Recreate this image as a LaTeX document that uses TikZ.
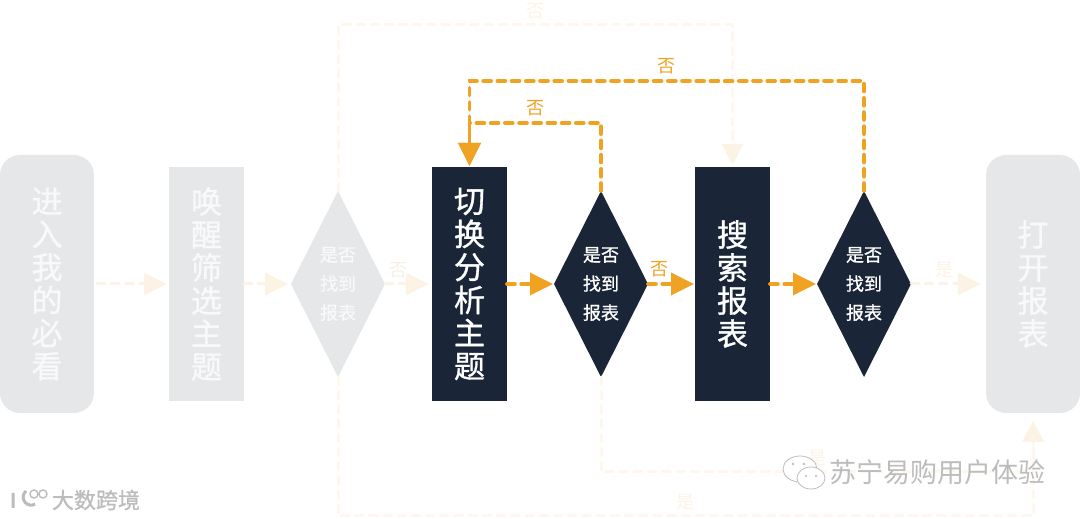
\documentclass[tikz,border=0pt]{standalone}
\usepackage{fontspec}
\setmainfont{Noto Sans CJK SC}
\newfontfamily\cjkheavy[FakeBold=1]{Noto Sans CJK SC}
\usetikzlibrary{arrows.meta,positioning,shapes.geometric}
\definecolor{navy}{HTML}{1A2638}
\definecolor{mist}{HTML}{E5E7E9}
\definecolor{amber}{HTML}{F0A323}
\definecolor{ghost}{HTML}{FDF3E5}
\definecolor{ghostline}{HTML}{FEF7EE}
\definecolor{ghosttext}{HTML}{F8F9F9}
\definecolor{markgrey}{HTML}{BCBCBC}
\begin{document}
\begin{tikzpicture}[x=1pt,y=1pt,>={Triangle[length=23pt,width=22pt]},
 bigtext/.style={font=\fontsize{31}{33}\selectfont\cjkheavy,align=center,inner sep=0pt,outer sep=0pt},
 flat/.style={bigtext,minimum width=75pt,minimum height=234pt},
 pill/.style={bigtext,minimum width=94pt,minimum height=258pt,rounded corners=20pt},
 check/.style={diamond,shape aspect=.5,minimum width=94pt,minimum height=186pt,inner sep=0pt,outer sep=0pt,align=center,font=\fontsize{18}{29}\selectfont\cjkheavy},
 dim/.style={fill=mist,text=ghosttext},
 live/.style={fill=navy,text=white},
 flow/.style={draw=amber,line width=3.6pt,line cap=round,dash pattern=on 8pt off 6.2pt,->},
 fade/.style={draw=ghost,line width=3pt,line cap=round,dash pattern=on 8pt off 6.2pt,->},
 fadeloop/.style={draw=ghostline,line width=3pt,line cap=round,dash pattern=on 8pt off 6.2pt,-{Triangle[length=21pt,width=21pt,color=ghost]}},
 tag/.style={font=\fontsize{18}{20}\selectfont,inner sep=0pt,above=5pt},
 stamp/.style={text=markgrey,inner sep=0pt}]
\useasboundingbox (0,0) rectangle (1080,519);
% process row
\node[pill,dim] (entry) at (47,235) {进\\入\\我\\的\\必\\看};
\node[flat,dim] (awaken) at (206.5,235) {唤\\醒\\筛\\选\\主\\题};
\node[check,dim] (checkA) at (338,235) {是否\\找到\\报表};
\node[flat,live] (switch) at (469.5,235) {切\\换\\分\\析\\主\\题};
\node[check,live] (checkB) at (601,235) {是否\\找到\\报表};
\node[flat,live] (search) at (732.5,235) {搜\\索\\报\\表};
\node[check,live] (checkC) at (864,235) {是否\\找到\\报表};
\node[pill,dim] (report) at (1033,235) {打\\开\\报\\表};
% faded paths
\draw[fade,shorten <=3pt,shorten >=2pt] (entry)--(awaken);
\draw[fade,shorten >=3pt] (awaken)--(checkA);
\draw[fade,shorten >=3pt] (checkA)--node[pos=.28,tag,text=ghost!70!mist]{否}(switch);
\draw[fade,shorten >=5pt] (checkC)--node[pos=.45,tag,text=ghost]{是}(report);
\draw[fadeloop,shorten >=2pt] (checkA.north)--++(0,166)-|node[pos=.25,tag,text=ghost]{否}(search.north);
\draw[fadeloop,shorten >=8pt] (checkB.south)--++(0,-95)-|node[pos=.25,tag,text=ghost]{是}(report.south);
\draw[fadeloop,shorten >=8pt] (checkA.south)--++(0,-139)-|node[pos=.25,tag,text=ghost]{是}(report.south);
% active paths
\draw[flow,shorten >=1pt] (switch)--(checkB);
\draw[flow,shorten >=1pt] (checkB)--node[pos=.24,tag,text=amber]{否}(search);
\draw[flow,shorten >=1pt] (search)--(checkC);
\draw[flow,shorten >=1pt] (checkB.north)--++(0,68)-|node[pos=.25,tag,text=amber]{否}(switch.north);
\draw[flow,shorten >=1pt] (checkC.north)--++(0,110)-|node[pos=.25,tag,text=amber]{否}(switch.north);
% watermarks
\node[stamp,font=\fontsize{27}{29}\selectfont] (wechat) at (937,47) {苏宁易购用户体验};
\node[stamp,font=\fontsize{22}{24}\selectfont\cjkheavy] (bigdata) at (96,19) {大数跨境};
\draw[markgrey,fill=white,line width=.8pt] (800,50) ellipse (17pt and 13pt);
\draw[markgrey,fill=white,line width=.8pt] (811,41) ellipse (14pt and 11pt);
\fill[markgrey] (793,55) circle (1.3pt) (804,55) circle (1.3pt) (806,43) circle (1.2pt) (816,43) circle (1.2pt);
\draw[markgrey,line width=3pt] (13,26)--(13,11) (26,28) arc (130:300:8pt);
\draw[markgrey,line width=1.4pt] (34,25) circle (4pt) (43,25) circle (4pt);
\end{tikzpicture}
\end{document}
